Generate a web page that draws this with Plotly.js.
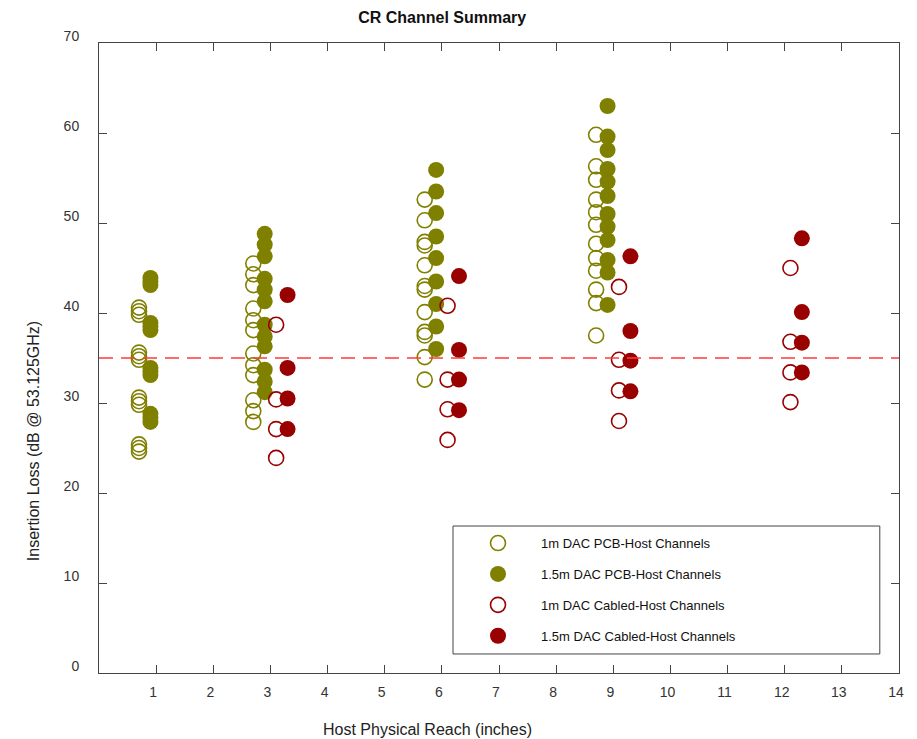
<!DOCTYPE html>
<html>
<head>
<meta charset="utf-8">
<script src="https://cdn.plot.ly/plotly-3.0.1.min.js"></script>
<style>html,body{margin:0;padding:0;background:#fff;} #chart{width:917px;height:739px;}</style>
</head>
<body>
<div id="chart"></div>
<script>
// Host physical reach positions (inches)
const xTicks = [1,2,3,4,5,6,7,8,9,10,11,12,13,14];
const yTicks = [0,10,20,30,40,50,60,70];
const threshold = 35;

// 1m DAC PCB-Host Channels (insertion loss, dB)
const pcb1m_1 = [40.6, 40.2, 39.8, 35.6, 35.2, 34.8, 30.6, 30.2, 29.8, 25.4, 25.0, 24.6];
const pcb1m_3 = [45.5, 44.3, 43.1, 40.5, 39.2, 38.1, 35.5, 34.2, 33.1, 30.3, 29.1, 27.9];
const pcb1m_6 = [52.6, 50.3, 47.9, 47.5, 45.3, 43.0, 42.6, 40.1, 37.9, 37.5, 35.1, 32.6];
const pcb1m_9 = [59.8, 56.3, 54.8, 52.6, 51.2, 49.8, 47.7, 46.1, 44.7, 42.6, 41.1, 37.5];
// 1.5m DAC PCB-Host Channels
const pcb15_1 = [43.9, 43.5, 43.1, 38.9, 38.5, 38.1, 33.9, 33.5, 33.1, 28.8, 28.4, 27.9];
const pcb15_3 = [48.8, 47.6, 46.3, 43.8, 42.6, 41.3, 38.7, 37.4, 36.3, 33.7, 32.4, 31.2];
const pcb15_6 = [55.9, 53.5, 51.1, 48.5, 46.1, 43.5, 41.0, 38.5, 36.0];
const pcb15_9 = [63.0, 59.6, 58.1, 56.0, 54.6, 53.0, 51.0, 49.6, 48.1, 45.9, 44.5, 40.9];
// 1m DAC Cabled-Host Channels
const cab1m_3 = [38.7, 30.4, 27.1, 23.9];
const cab1m_6 = [40.8, 32.6, 29.3, 25.9];
const cab1m_9 = [42.9, 34.8, 31.4, 28.0];
const cab1m_12 = [45.0, 36.8, 33.4, 30.1];
// 1.5m DAC Cabled-Host Channels
const cab15_3 = [42.0, 33.9, 30.5, 27.1];
const cab15_6 = [44.1, 35.9, 32.6, 29.2];
const cab15_9 = [46.3, 38.0, 34.7, 31.3];
const cab15_12 = [48.3, 40.1, 36.7, 33.4];

const OLIVE = '#808000';
const DRED = '#990000';

function build(groups, offset) {
  const xs = [], ys = [];
  groups.forEach(([reach, vals]) => {
    vals.forEach(v => { xs.push(reach + offset); ys.push(v); });
  });
  return {x: xs, y: ys};
}

const s1 = build([[1, pcb1m_1],[3, pcb1m_3],[6, pcb1m_6],[9, pcb1m_9]], -0.3);
const s2 = build([[1, pcb15_1],[3, pcb15_3],[6, pcb15_6],[9, pcb15_9]], -0.1);
const s3 = build([[3, cab1m_3],[6, cab1m_6],[9, cab1m_9],[12, cab1m_12]], 0.1);
const s4 = build([[3, cab15_3],[6, cab15_6],[9, cab15_9],[12, cab15_12]], 0.3);

const traces = [
  {x: s1.x, y: s1.y, mode: 'markers', type: 'scatter', name: '1m DAC PCB-Host Channels', legendgroup: 'a',
   marker: {symbol: 'circle-open', size: 15, color: OLIVE, line: {width: 1.6, color: OLIVE}}},
  {x: s2.x, y: s2.y, mode: 'markers', type: 'scatter', name: '1.5m DAC PCB-Host Channels', legendgroup: 'b',
   marker: {symbol: 'circle', size: 16, color: OLIVE, line: {width: 0}}},
  {x: s3.x, y: s3.y, mode: 'markers', type: 'scatter', name: '1m DAC Cabled-Host Channels', legendgroup: 'c',
   marker: {symbol: 'circle-open', size: 15, color: DRED, line: {width: 1.6, color: DRED}}},
  {x: s4.x, y: s4.y, mode: 'markers', type: 'scatter', name: '1.5m DAC Cabled-Host Channels', legendgroup: 'd',
   marker: {symbol: 'circle', size: 16, color: DRED, line: {width: 0}}}
];

const FONT = 'Liberation Sans, Arial, sans-serif';
const axisCommon = {
  showgrid: false, zeroline: false, showline: true, linecolor: '#444', linewidth: 1,
  mirror: 'ticks', ticks: 'inside', ticklen: 8, tickwidth: 1, tickcolor: '#444',
  tickfont: {family: FONT, size: 14, color: '#333'}
};

const layout = {
  width: 917, height: 739,
  margin: {l: 99, r: 18, t: 43, b: 66},
  paper_bgcolor: '#fff', plot_bgcolor: '#fff',
  font: {family: FONT, color: '#222'},
  title: {text: '<b>CR Channel Summary</b>', font: {family: FONT, size: 16, color: '#111'},
          x: 0.429, xref: 'paper', xanchor: 'center', y: 0.977, yref: 'container', yanchor: 'middle'},
  xaxis: Object.assign({}, axisCommon, {range: [0, 14], tickmode: 'array', tickvals: xTicks,
          ticktext: xTicks.map(String), ticklabelstandoff: 6, ticklabelshift: -3}),
  yaxis: Object.assign({}, axisCommon, {range: [0, 70], tickmode: 'array', tickvals: yTicks,
          ticktext: yTicks.map(String), ticklabelstandoff: 16, ticklabelshift: -7}),
  showlegend: true,
  legend: {x: 0.445, xanchor: 'left', y: 0.23, yanchor: 'top', bgcolor: 'rgba(0,0,0,0)',
           borderwidth: 0, font: {family: FONT, size: 13, color: '#111'}, tracegroupgap: 11,
           itemwidth: 76},
  shapes: [
    {type: 'line', xref: 'paper', x0: 0, x1: 1, yref: 'y', y0: threshold, y1: threshold,
     line: {color: '#ff3b3b', width: 1.5, dash: '14px,8px'}},
    {type: 'rect', xref: 'paper', yref: 'paper', x0: 0.4425, x1: 0.976, y0: 0.0302, y1: 0.2333,
     line: {color: '#444', width: 1}, fillcolor: 'rgba(0,0,0,0)'}
  ],
  annotations: [
    {text: 'Host Physical Reach (inches)', xref: 'paper', yref: 'paper', x: 0.411, y: -0.0889,
     xanchor: 'center', yanchor: 'middle', showarrow: false, font: {family: FONT, size: 16, color: '#222'}},
    {text: 'Insertion Loss (dB @ 53.125GHz)', xref: 'paper', yref: 'paper', x: -0.0825, y: 0.368,
     xanchor: 'center', yanchor: 'middle', textangle: -90, showarrow: false, font: {family: FONT, size: 16, color: '#222'}}
  ]
};

Plotly.newPlot('chart', traces, layout, {displayModeBar: false, staticPlot: true});
</script>
</body>
</html>
